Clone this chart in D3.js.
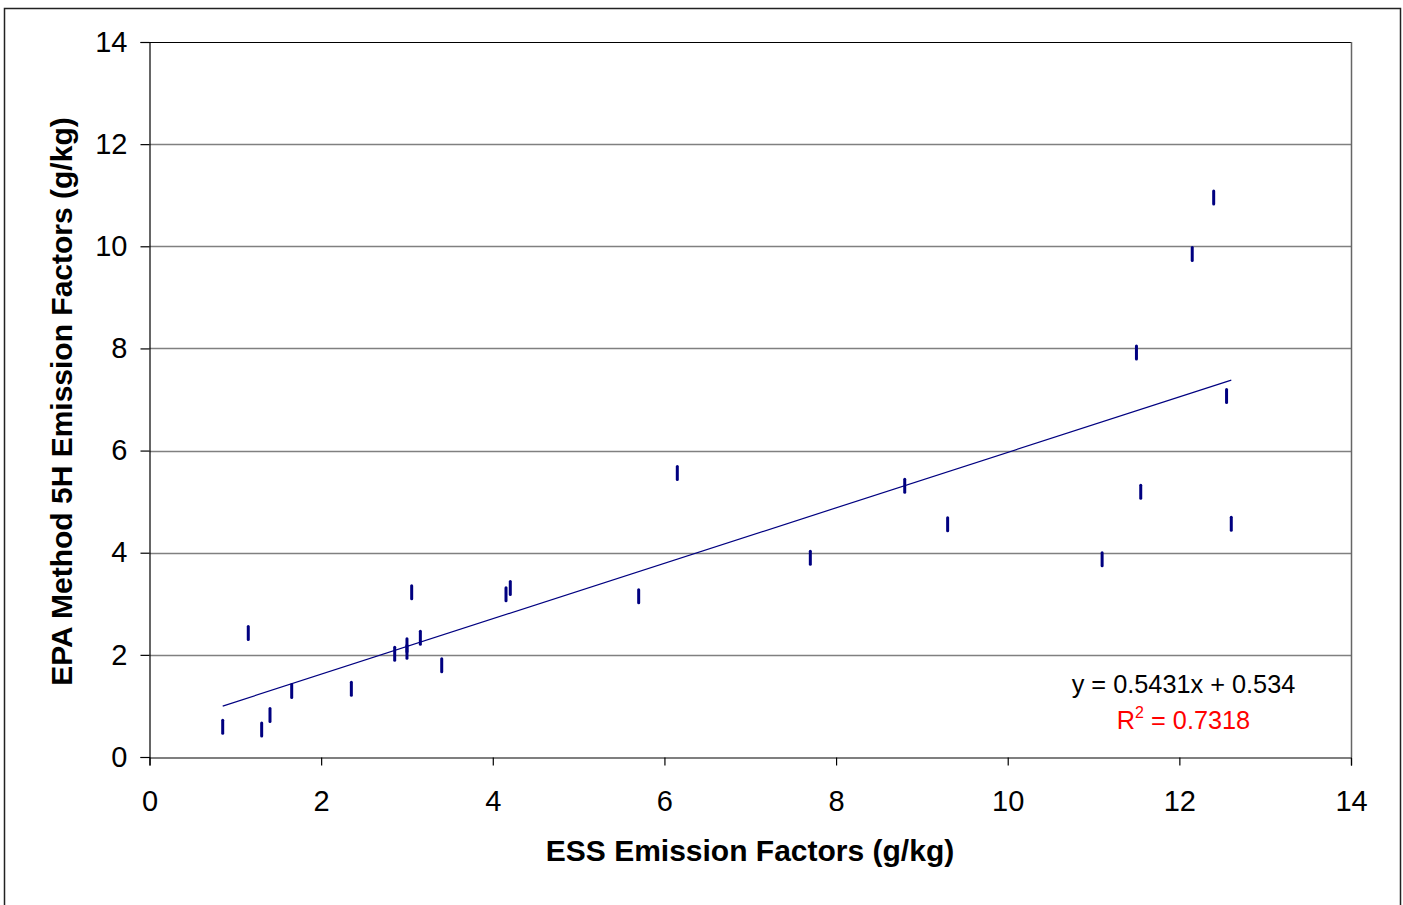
<!DOCTYPE html>
<html><head><meta charset="utf-8">
<script src="https://cdn.jsdelivr.net/npm/d3@7"></script>
<style>
html,body{margin:0;padding:0;background:#fff;}
svg{display:block;font-family:"Liberation Sans",Arial,sans-serif;}
</style></head>
<body>
<svg id="chart" width="1403" height="905"></svg>
<script>
// ESS emission factors (x) and EPA Method 5H emission factors (y), g/kg
const essX = [0.853, 1.151, 1.307, 1.404, 1.657, 2.352, 2.857, 3.00, 3.00, 3.055, 3.156, 3.405,
              4.154, 4.204, 5.70, 6.15, 7.70, 8.80, 9.30, 11.10, 11.50, 11.55, 12.15, 12.40, 12.55, 12.605];
const epaY = [0.59, 2.43, 0.54, 0.82, 1.29, 1.335, 2.02, 2.06, 2.19, 3.225, 2.336, 1.795,
              3.186, 3.31, 3.15, 5.56, 3.90, 5.31, 4.556, 3.87, 7.92, 5.195, 9.85, 10.955, 7.07, 4.568];
const xTicks = [0, 2, 4, 6, 8, 10, 12, 14];
const yTicks = [0, 2, 4, 6, 8, 10, 12, 14];
const trendSlope = 0.5431;
const trendIntercept = 0.534;
const eqLabel = "y = 0.5431x + 0.534";
const r2Value = "0.7318";
const xTitle = "ESS Emission Factors (g/kg)";
const yTitle = "EPA Method 5H Emission Factors (g/kg)";

const svg = d3.select("#chart");
const L = 149.5, R = 1351, T = 42, B = 757;
const x = d3.scaleLinear().domain([0, 14]).range([L, R]);
const y = d3.scaleLinear().domain([0, 14]).range([B, T]);

// outer border
svg.append("rect").attr("x", 4.5).attr("y", 8.5).attr("width", 1396).attr("height", 920)
  .attr("fill", "none").attr("stroke", "#222").attr("stroke-width", 1.5);

// gridlines
svg.append("g").selectAll("line").data(yTicks.filter(d => d > 0 && d < 14)).join("line")
  .attr("x1", L).attr("x2", R).attr("y1", d => Math.round(y(d)) + 0.5).attr("y2", d => Math.round(y(d)) + 0.5)
  .attr("stroke", "#808080").attr("stroke-width", 1.5);

// plot border top/right
svg.append("line").attr("x1", L).attr("x2", R).attr("y1", T + 0.5).attr("y2", T + 0.5).attr("stroke", "#000").attr("stroke-width", 1);
svg.append("line").attr("x1", R + 0.5).attr("x2", R + 0.5).attr("y1", T).attr("y2", B).attr("stroke", "#666").attr("stroke-width", 1.5);

// axes
const xAxis = d3.axisBottom(x).tickValues(xTicks).tickSize(8).tickPadding(25).tickFormat(d3.format("d"));
const yAxis = d3.axisLeft(y).tickValues(yTicks).tickSize(9).tickPadding(13).tickFormat(d3.format("d"));
const gx = svg.append("g").attr("transform", `translate(0,${B + 0.5})`).call(xAxis);
const gy = svg.append("g").attr("transform", `translate(${L},0)`).call(yAxis);
[gx, gy].forEach(g => {
  g.select(".domain").attr("stroke", "#000").attr("stroke-width", 1.2);
  g.selectAll(".tick line").attr("stroke", "#000").attr("stroke-width", 1.2);
  g.selectAll(".tick text").attr("fill", "#000").style("font-size", "29px").style("font-family", '"Liberation Sans",Arial,sans-serif');
});

// trend line
const xMin = d3.min(essX), xMax = d3.max(essX);
svg.append("line")
  .attr("x1", x(xMin)).attr("y1", y(trendSlope * xMin + trendIntercept))
  .attr("x2", x(xMax)).attr("y2", y(trendSlope * xMax + trendIntercept))
  .attr("stroke", "#000080").attr("stroke-width", 1.2);

// markers (vertical dash)
svg.append("g").selectAll("line").data(essX.map((v, i) => [v, epaY[i]])).join("line")
  .attr("x1", d => x(d[0])).attr("x2", d => x(d[0]))
  .attr("y1", d => y(d[1]) - 6.5).attr("y2", d => y(d[1]) + 6.5)
  .attr("stroke", "#000080").attr("stroke-width", 3).attr("stroke-linecap", "round");

// equation labels
svg.append("text").attr("x", 1183.5).attr("y", 693).attr("text-anchor", "middle")
  .style("font-size", "25.3px").attr("fill", "#000").text(eqLabel);
const r2 = svg.append("text").attr("x", 1183.5).attr("y", 729).attr("text-anchor", "middle")
  .style("font-size", "25.3px").attr("fill", "#ff0000");
r2.append("tspan").text("R");
r2.append("tspan").attr("dy", -11).style("font-size", "16px").text("2");
r2.append("tspan").attr("dy", 11).text(" = " + r2Value);

// axis titles
svg.append("text").attr("x", 750).attr("y", 861).attr("text-anchor", "middle")
  .style("font-size", "30px").style("font-weight", "bold").attr("fill", "#000").text(xTitle);
svg.append("text").attr("transform", "translate(72,401.5) rotate(-90)").attr("text-anchor", "middle")
  .style("font-size", "30px").style("font-weight", "bold").attr("fill", "#000").text(yTitle);
</script>
</body></html>
